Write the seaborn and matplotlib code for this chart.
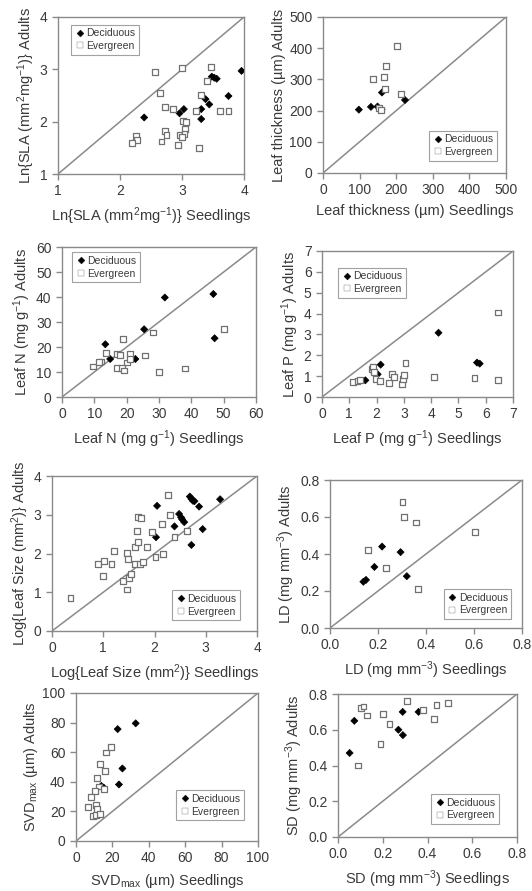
import matplotlib
matplotlib.use("Agg")
import matplotlib.pyplot as plt
import seaborn as sns
import pandas as pd
import numpy as np

# ---------------- data ----------------
sla_dec_x = [2.39, 3.03, 2.96, 3.31, 3.31, 3.38, 3.44, 3.48, 3.52, 3.56, 3.75, 3.96]
sla_dec_y = [2.08, 2.24, 2.16, 2.05, 2.24, 2.43, 2.33, 2.86, 2.84, 2.82, 2.49, 2.97]
sla_ev_x = [2.56, 3.00, 3.47, 2.65, 2.72, 2.85, 3.22, 3.31, 3.40, 3.62, 3.75, 3.01, 3.07,
            3.05, 2.96, 3.04, 3.00, 2.72, 2.75, 2.94, 3.27, 2.67, 2.26, 2.27, 2.20]
sla_ev_y = [2.95, 3.02, 3.04, 2.54, 2.28, 2.24, 2.21, 2.51, 2.78, 2.21, 2.21, 2.02, 1.99,
            1.86, 1.75, 1.77, 1.70, 1.82, 1.75, 1.55, 1.50, 1.62, 1.73, 1.65, 1.60]

lt_dec_x = [98, 131, 149, 160, 161, 224]
lt_dec_y = [203, 212, 213, 203, 258, 234]
lt_ev_x = [137, 166, 173, 203, 169, 212, 153, 158]
lt_ev_y = [301, 308, 343, 407, 268, 252, 207, 202]

n_dec_x = [13.4, 14.9, 22.7, 25.4, 31.8, 46.8, 47.2]
n_dec_y = [21.1, 15.2, 15.2, 27.1, 39.8, 41.2, 23.5]
n_ev_x = [9.5, 12.0, 11.4, 13.6, 16.9, 18.0, 17.0, 18.5, 19.2, 19.0, 20.1, 21.1, 21.1,
          25.8, 28.1, 30.1, 38.1, 50.0]
n_ev_y = [12.2, 14.2, 14.0, 17.7, 17.2, 16.9, 11.6, 11.6, 10.6, 23.1, 13.8, 17.2, 15.3,
          16.6, 25.8, 10.0, 11.4, 27.1]

p_dec_x = [1.59, 1.93, 1.98, 2.04, 2.15, 4.27, 5.68, 5.78]
p_dec_y = [0.80, 1.12, 1.04, 1.09, 1.55, 3.08, 1.65, 1.60]
p_ev_x = [1.15, 1.30, 1.40, 1.82, 1.88, 1.92, 1.96, 2.12, 2.45, 2.57, 2.64, 2.93, 2.96,
          3.02, 3.06, 4.11, 5.59, 6.45, 6.44]
p_ev_y = [0.72, 0.78, 0.80, 1.33, 1.44, 1.20, 0.85, 0.75, 0.69, 1.09, 0.94, 0.61, 0.85,
          1.04, 1.65, 0.98, 0.90, 4.05, 0.80]

ls_dec_x = [2.05, 2.03, 2.39, 2.48, 2.52, 2.54, 2.58, 2.69, 2.72, 2.75, 2.78, 2.87, 2.94, 2.72, 3.28]
ls_dec_y = [3.23, 2.42, 2.70, 3.02, 2.93, 2.88, 2.81, 3.47, 3.41, 3.36, 3.35, 3.21, 2.63, 2.22, 3.40]
ls_ev_x = [0.36, 0.90, 1.02, 1.00, 1.16, 1.21, 1.38, 1.47, 1.49, 1.50, 1.47, 1.54, 1.62, 1.62,
           1.65, 1.67, 1.68, 1.72, 1.74, 1.78, 1.85, 1.95, 2.02, 2.15, 2.17, 2.27, 2.31, 2.39, 2.63]
ls_ev_y = [0.85, 1.72, 1.81, 1.42, 1.72, 2.06, 1.29, 2.02, 1.86, 1.37, 1.07, 1.48, 1.74, 2.17,
           2.58, 2.30, 2.94, 1.74, 2.92, 1.77, 2.17, 2.55, 1.90, 2.77, 1.99, 3.51, 3.00, 2.42, 2.57]

ld_dec_x = [0.139, 0.150, 0.185, 0.217, 0.294, 0.320]
ld_dec_y = [0.25, 0.26, 0.33, 0.44, 0.41, 0.28]
ld_ev_x = [0.302, 0.307, 0.359, 0.160, 0.232, 0.366, 0.604]
ld_ev_y = [0.68, 0.60, 0.57, 0.42, 0.325, 0.21, 0.52]

svd_dec_x = [22.9, 32.8, 25.5, 23.6, 13.9, 15.2]
svd_dec_y = [75.6, 79.5, 49.0, 38.2, 37.2, 36.1]
svd_ev_x = [19.4, 16.3, 13.0, 16.1, 11.5, 12.6, 10.6, 8.2, 6.4, 10.8, 11.5, 9.3, 10.8, 13.4, 15.2]
svd_ev_y = [63.7, 59.8, 52.1, 47.0, 42.4, 36.8, 33.6, 29.8, 22.8, 24.2, 21.4, 16.9, 17.8, 18.3, 35.0]

sd_dec_x = [0.052, 0.073, 0.289, 0.270, 0.290, 0.360]
sd_dec_y = [0.47, 0.65, 0.70, 0.60, 0.57, 0.70]
sd_ev_x = [0.103, 0.114, 0.130, 0.200, 0.230, 0.310, 0.380, 0.440, 0.490, 0.430, 0.190, 0.090]
sd_ev_y = [0.72, 0.73, 0.68, 0.69, 0.63, 0.76, 0.71, 0.74, 0.75, 0.66, 0.52, 0.40]

groups = ["Deciduous", "Evergreen"]

# ---------------- style ----------------
sns.set_style("ticks")
plt.rcParams['font.family'] = ['Liberation Sans', 'DejaVu Sans']
plt.rcParams['mathtext.fontset'] = 'custom'
plt.rcParams['mathtext.rm'] = 'Liberation Sans'
plt.rcParams['mathtext.it'] = 'Liberation Sans:italic'
plt.rcParams['mathtext.default'] = 'regular'

TXT = '#3a3a3a'
LINE = '#8a8a8a'

W, H = 532, 891
fig = plt.figure(figsize=(W / 100, H / 100), dpi=100)


def make_df(dx, dy, ex, ey):
    return pd.DataFrame({
        "x": list(dx) + list(ex),
        "y": list(dy) + list(ey),
        "grp": [groups[0]] * len(dx) + [groups[1]] * len(ex),
    })


panels = [
    ((58, 17, 244, 174), (sla_dec_x, sla_dec_y, sla_ev_x, sla_ev_y), (1, 4), [1, 2, 3, 4], None,
     r"Ln{SLA (mm$^2$mg$^{-1}$)} Seedlings", r"Ln{SLA (mm$^2$mg$^{-1}$)} Adults",
     ("upper left", (0.07, 0.95))),
    ((323, 17, 506, 173), (lt_dec_x, lt_dec_y, lt_ev_x, lt_ev_y), (0, 500), [0, 100, 200, 300, 400, 500], None,
     "Leaf thickness (µm) Seedlings", "Leaf thickness (µm) Adults",
     ("lower right", (0.95, 0.08))),
    ((62, 247, 256, 397), (n_dec_x, n_dec_y, n_ev_x, n_ev_y), (0, 60), [0, 10, 20, 30, 40, 50, 60], None,
     r"Leaf N (mg g$^{-1}$) Seedlings", r"Leaf N (mg g$^{-1}$) Adults",
     ("upper left", (0.05, 0.965))),
    ((322, 251, 513, 397), (p_dec_x, p_dec_y, p_ev_x, p_ev_y), (0, 7), [0, 1, 2, 3, 4, 5, 6, 7], None,
     r"Leaf P (mg g$^{-1}$) Seedlings", r"Leaf P (mg g$^{-1}$) Adults",
     ("upper left", (0.085, 0.885))),
    ((52, 476, 257, 631), (ls_dec_x, ls_dec_y, ls_ev_x, ls_ev_y), (0, 4), [0, 1, 2, 3, 4], None,
     r"Log{Leaf Size (mm$^2$)} Seedlings", r"Log{Leaf Size (mm$^2$)} Adults",
     ("lower right", (0.915, 0.07))),
    ((330, 480, 522, 628), (ld_dec_x, ld_dec_y, ld_ev_x, ld_ev_y), (0, 0.8), [0.0, 0.2, 0.4, 0.6, 0.8], "%.1f",
     r"LD (mg mm$^{-3}$) Seedlings", r"LD (mg mm$^{-3}$) Adults",
     ("lower right", (0.945, 0.06))),
    ((76, 693, 258, 841), (svd_dec_x, svd_dec_y, svd_ev_x, svd_ev_y), (0, 100), [0, 20, 40, 60, 80, 100], None,
     r"SVD$_{max}$ (µm) Seedlings", r"SVD$_{max}$ (µm) Adults",
     ("lower right", (0.925, 0.14))),
    ((338, 694, 517, 837), (sd_dec_x, sd_dec_y, sd_ev_x, sd_ev_y), (0, 0.8), [0.0, 0.2, 0.4, 0.6, 0.8], "%.1f",
     r"SD (mg mm$^{-3}$) Seedlings", r"SD (mg mm$^{-3}$) Adults",
     ("lower right", (0.90, 0.09))),
]

for box, data, lim, ticks, fmt, xl, yl, leg in panels:
    l, t, r, b = box
    ax = fig.add_axes([l / W, 1 - b / H, (r - l) / W, (b - t) / H])
    df = make_df(*data)
    ax.plot(lim, lim, color=LINE, lw=1.1, zorder=1)
    sns.scatterplot(data=df, x="x", y="y", hue="grp", style="grp",
                    hue_order=groups, style_order=groups,
                    palette={"Deciduous": "black", "Evergreen": "white"},
                    markers={"Deciduous": "D", "Evergreen": "s"},
                    size="grp", sizes={"Deciduous": 13, "Evergreen": 18},
                    ax=ax, zorder=3, legend=True)
    offs = ax.collections[0]
    ec = []
    fc = []
    for g in df["grp"]:
        if g == "Deciduous":
            ec.append('black'); fc.append('black')
        else:
            ec.append('#707070'); fc.append('white')
    offs.set_edgecolors(ec)
    offs.set_facecolors(fc)
    offs.set_linewidths([0.5 if g == "Deciduous" else 0.9 for g in df["grp"]])

    ax.set_xlim(lim)
    ax.set_ylim(lim)
    ax.set_xticks(ticks)
    ax.set_yticks(ticks)
    if fmt:
        ax.set_xticklabels([fmt % v for v in ticks])
        ax.set_yticklabels([fmt % v for v in ticks])
    ax.set_xlabel(xl, fontsize=10.5, color=TXT, labelpad=5)
    ax.set_ylabel(yl, fontsize=10.5, color=TXT, labelpad=2)
    ax.tick_params(axis='both', direction='out', length=4, width=1, color=LINE,
                   labelsize=10, labelcolor=TXT, top=False, right=False, pad=3.5)
    for sp in ax.spines.values():
        sp.set_visible(True)
        sp.set_color(LINE)
        sp.set_linewidth(1)

    # legend
    handles, labels = ax.get_legend_handles_labels()
    hmap = dict(zip(labels, handles))
    hs = []
    for g in groups:
        h = hmap[g]
        if g == "Deciduous":
            h.set_markerfacecolor('black'); h.set_markeredgecolor('black')
            h.set_markersize(3.5)
        else:
            h.set_markerfacecolor('white'); h.set_markeredgecolor('#707070')
            h.set_markersize(4)
        hs.append(h)
    lg = ax.legend(hs, groups, loc=leg[0], bbox_to_anchor=leg[1], frameon=True, fancybox=False,
                   fontsize=7.5, borderpad=0.35, handletextpad=0.1, handlelength=1.0,
                   labelspacing=0.25, borderaxespad=0)
    lg.get_frame().set_edgecolor(LINE)
    lg.get_frame().set_linewidth(0.8)
    for tx in lg.get_texts():
        tx.set_color(TXT)

fig.savefig("out.png", dpi=100)
